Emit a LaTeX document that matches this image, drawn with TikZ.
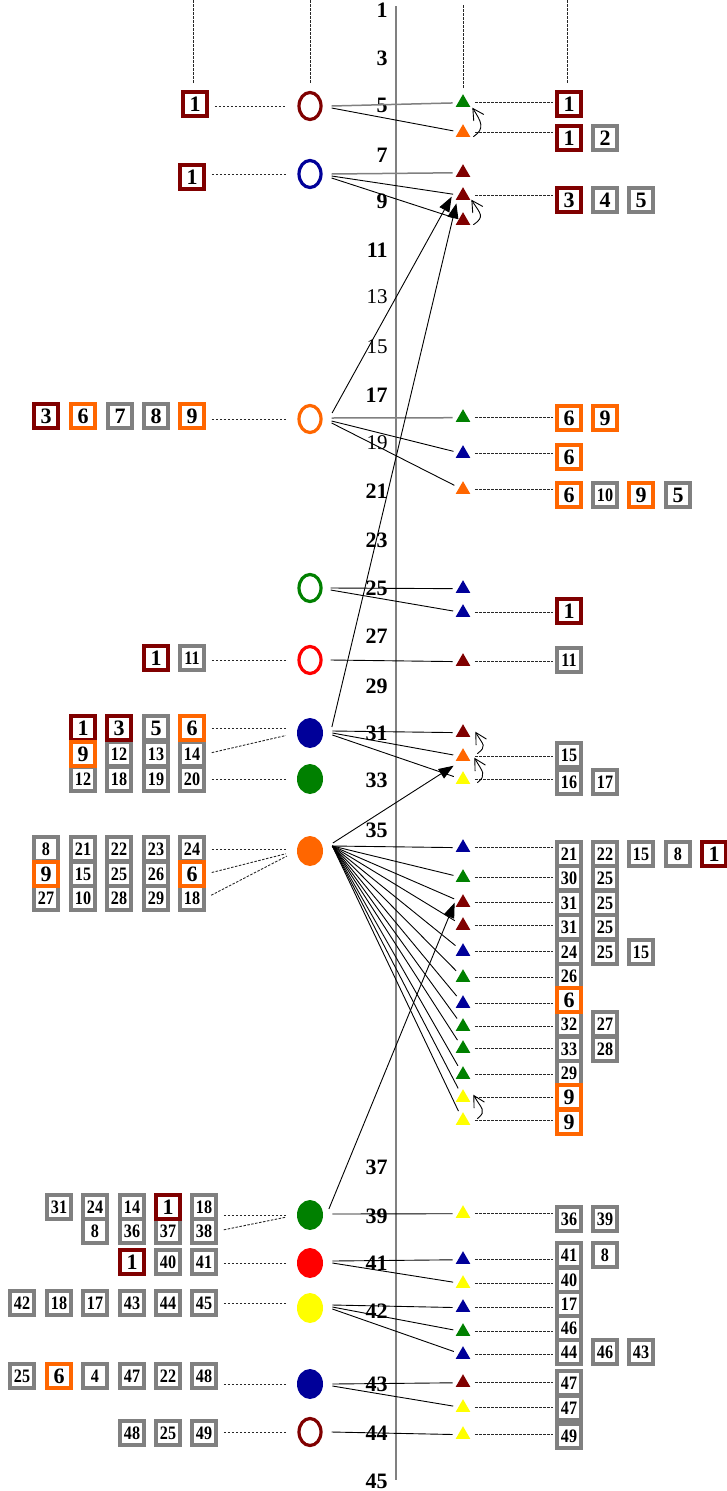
\documentclass[tikz,border=0pt]{standalone}
\usepackage{fontspec}
\setmainfont{Liberation Serif}
\newfontfamily\narrowserif[FakeStretch=0.85]{Liberation Serif}
\usetikzlibrary{shapes.geometric,arrows.meta,calc}

\definecolor{dkred}{RGB}{128,0,0}
\definecolor{orng}{RGB}{255,102,0}
\definecolor{navy}{RGB}{0,0,153}
\definecolor{grn}{RGB}{0,128,0}
\definecolor{ylw}{RGB}{255,255,0}
\definecolor{bxgray}{RGB}{128,128,128}
\definecolor{dashgray}{RGB}{40,40,40}

\newcommand{\bignum}{\fontsize{22}{22}\selectfont\bfseries}
\newcommand{\smlnum}{\narrowserif\fontsize{19}{19}\selectfont\bfseries}

\tikzset{every picture/.style={line width=0.75pt}}
\tikzset{
 ring/.style={ellipse, draw=#1, line width=3.2pt, minimum width=22pt, minimum height=27pt, inner sep=0pt},
 disc/.style={ellipse, fill=#1, minimum width=26pt, minimum height=30pt, inner sep=0pt},
 tri/.style={regular polygon, regular polygon sides=3, fill=#1, minimum size=17pt, inner sep=0pt},
 numbox/.style={draw=#1, fill=white, line width=3.8pt, minimum width=24pt, minimum height=24pt, inner sep=0pt, font=\smlnum},
 gbx/.style={numbox=bxgray},
 gbig/.style={numbox=bxgray, font=\bignum},
 rbx/.style={numbox=dkred, font=\bignum},
 obx/.style={numbox=orng, font=\bignum},
 axlab/.style={anchor=east, inner sep=0pt, font=\bignum},
 axthin/.style={anchor=east, inner sep=0pt, font=\fontsize{21}{21}\selectfont},
 link/.style={line width=0.9pt, shorten >=5pt},
 hlink/.style={link, color=bxgray, line width=1.5pt},
 dline/.style={dashgray, line width=0.9pt, dash pattern=on 2.5pt off 1.5pt},
 lft/.style={dline, shorten <=6pt, shorten >=11pt},
 rgt/.style={dline, shorten <=7pt, shorten >=2pt},
 bigarr/.style={line width=0.9pt, -{Triangle[length=15pt,width=11pt]}},
 backarr/.style={line width=0.9pt, -{Straight Barb[length=11pt,width=12pt]}},
}

\begin{document}
\begin{tikzpicture}[x=1pt,y=1pt,yscale=-1,xscale=1]
\useasboundingbox (0,0) rectangle (727,1491);

%Straight Lines: top guides
\draw[dline] (193,0) -- (193,83);
\draw[dline] (310,0) -- (310,83);
\draw[dline] (463,5) -- (463,88);
\draw[dline] (567,0) -- (567,83);

%Straight Lines: axis
\draw[color=bxgray, line width=1.5pt] (396,6) -- (396,1480);

% Text Node: axis labels
\node[axlab] (ax1) at (388,10) {1};
\node[axlab] (ax3) at (388,58) {3};
\node[axlab] (ax5) at (388,105) {5};
\node[axlab] (ax7) at (388,155) {7};
\node[axlab] (ax9) at (388,201) {9};
\node[axlab] (ax11) at (388,250) {11};
\node[axthin] (ax13) at (388,297) {13};
\node[axthin] (ax15) at (388,347) {15};
\node[axlab] (ax17) at (388,395) {17};
\node[axthin] (ax19) at (388,443) {19};
\node[axlab] (ax21) at (388,491) {21};
\node[axlab] (ax23) at (388,540) {23};
\node[axlab] (ax25) at (388,588) {25};
\node[axlab] (ax27) at (388,636) {27};
\node[axlab] (ax29) at (388,686) {29};
\node[axlab] (ax31) at (388,733) {31};
\node[axlab] (ax33) at (388,780) {33};
\node[axlab] (ax35) at (388,830) {35};
\node[axlab] (ax37) at (388,1167) {37};
\node[axlab] (ax39) at (388,1216) {39};
\node[axlab] (ax41) at (388,1263) {41};
\node[axlab] (ax42) at (388,1311) {42};
\node[axlab] (ax43) at (388,1384) {43};
\node[axlab] (ax44) at (388,1433) {44};
\node[axlab] (ax45) at (388,1481) {45};

%Shape: Ellipse
\node[ring=dkred] (ov1) at (310,106) {};
\node[ring=navy] (ov2) at (310,174) {};
\node[ring=orng] (ov3) at (310,419) {};
\node[ring=grn] (ov4) at (310,588) {};
\node[ring=red] (ov5) at (310,660) {};
\node[disc=navy] (ov6) at (310,733) {};
\node[disc=grn] (ov7) at (310,779) {};
\node[disc=orng] (ov8) at (310,851) {};
\node[disc=grn] (ov9) at (310,1215) {};
\node[disc=red] (ov10) at (310,1263) {};
\node[disc=ylw] (ov11) at (310,1308) {};
\node[disc=navy] (ov12) at (310,1384) {};
\node[ring=dkred] (ov13) at (310,1432) {};

%Shape: Triangle
\node[tri=grn] (tr1) at (463,102.7) {};
\node[tri=orng] (tr2) at (463,132.7) {};
\node[tri=dkred] (tr3) at (463,172.7) {};
\node[tri=dkred] (tr4) at (463,195.7) {};
\node[tri=dkred] (tr5) at (463,220.7) {};
\node[tri=grn] (tr6) at (463,417.7) {};
\node[tri=navy] (tr7) at (463,453.7) {};
\node[tri=orng] (tr8) at (463,489.7) {};
\node[tri=navy] (tr9) at (463,588.7) {};
\node[tri=navy] (tr10) at (463,612.7) {};
\node[tri=dkred] (tr11) at (463,661.7) {};
\node[tri=dkred] (tr12) at (463,732.7) {};
\node[tri=orng] (tr13) at (463,756.7) {};
\node[tri=ylw] (tr14) at (463,779.7) {};
\node[tri=navy] (tr15) at (463,847.7) {};
\node[tri=grn] (tr16) at (463,877.7) {};
\node[tri=dkred] (tr17) at (463,902.7) {};
\node[tri=dkred] (tr18) at (463,925.7) {};
\node[tri=navy] (tr19) at (463,951.7) {};
\node[tri=grn] (tr20) at (463,977.7) {};
\node[tri=navy] (tr21) at (463,1003.7) {};
\node[tri=grn] (tr22) at (463,1026.7) {};
\node[tri=grn] (tr23) at (463,1048.7) {};
\node[tri=grn] (tr24) at (463,1074.7) {};
\node[tri=ylw] (tr25) at (463,1097.7) {};
\node[tri=ylw] (tr26) at (463,1120.7) {};
\node[tri=ylw] (tr27) at (463,1213.7) {};
\node[tri=navy] (tr28) at (463,1259.7) {};
\node[tri=ylw] (tr29) at (463,1283.7) {};
\node[tri=navy] (tr30) at (463,1307.7) {};
\node[tri=grn] (tr31) at (463,1331.7) {};
\node[tri=navy] (tr32) at (463,1354.7) {};
\node[tri=dkred] (tr33) at (463,1382.7) {};
\node[tri=ylw] (tr34) at (463,1407.7) {};
\node[tri=ylw] (tr35) at (463,1434.7) {};

% Text Node: left boxes
\node[rbx] (lb1) at (195,104) {1};
\node[rbx] (lb2) at (192,177) {1};
\node[gbig] (lb3c) at (120,416) {7};
\node[gbig] (lb3d) at (156,416) {8};
\node[rbx] (lb3a) at (46,416) {3};
\node[obx] (lb3b) at (83,416) {6};
\node[obx] (lb3e) at (192,416) {9};
\node[gbx] (lb5b) at (192,658) {11};
\node[rbx] (lb5a) at (156,658) {1};
% grid of the navy disc
\node[gbig] (lb6a3) at (156,728) {5};
\node[gbx] (lb6b2) at (119,754) {12};
\node[gbx] (lb6b3) at (156,754) {13};
\node[gbx] (lb6b4) at (192,754) {14};
\node[gbx] (lb6c1) at (83,779) {12};
\node[gbx] (lb6c2) at (119,779) {18};
\node[gbx] (lb6c3) at (156,779) {19};
\node[gbx] (lb6c4) at (192,779) {20};
\node[rbx] (lb6a1) at (83,728) {1};
\node[rbx] (lb6a2) at (119,728) {3};
\node[obx] (lb6a4) at (192,728) {6};
\node[obx] (lb6b1) at (83,754) {9};
% grid of the orange disc
\node[gbx] (lb8a1) at (46,849) {8};
\node[gbx] (lb8a2) at (83,849) {21};
\node[gbx] (lb8a3) at (119,849) {22};
\node[gbx] (lb8a4) at (156,849) {23};
\node[gbx] (lb8a5) at (192,849) {24};
\node[gbx] (lb8b2) at (83,874) {15};
\node[gbx] (lb8b3) at (119,874) {25};
\node[gbx] (lb8b4) at (156,874) {26};
\node[gbx] (lb8c1) at (46,898) {27};
\node[gbx] (lb8c2) at (83,898) {10};
\node[gbx] (lb8c3) at (119,898) {28};
\node[gbx] (lb8c4) at (156,898) {29};
\node[gbx] (lb8c5) at (192,898) {18};
\node[obx] (lb8b1) at (46,874) {9};
\node[obx] (lb8b5) at (192,874) {6};
% lower rows
\node[gbx] (lb9a1) at (59,1207) {31};
\node[gbx] (lb9a2) at (95,1207) {24};
\node[gbx] (lb9a3) at (132,1207) {14};
\node[gbx] (lb9a5) at (204,1207) {18};
\node[gbx] (lb9b1) at (95,1231) {8};
\node[gbx] (lb9b2) at (132,1231) {36};
\node[gbx] (lb9b3) at (168,1231) {37};
\node[gbx] (lb9b4) at (204,1231) {38};
\node[rbx] (lb9a4) at (168,1207) {1};
\node[rbx] (lb10a) at (132,1262) {1};
\node[gbx] (lb10b) at (168,1262) {40};
\node[gbx] (lb10c) at (204,1262) {41};
\node[gbx] (lb11a) at (22,1303) {42};
\node[gbx] (lb11b) at (59,1303) {18};
\node[gbx] (lb11c) at (95,1303) {17};
\node[gbx] (lb11d) at (132,1303) {43};
\node[gbx] (lb11e) at (168,1303) {44};
\node[gbx] (lb11f) at (204,1303) {45};
\node[gbx] (lb12a) at (22,1376) {25};
\node[obx] (lb12b) at (59,1376) {6};
\node[gbx] (lb12c) at (95,1376) {4};
\node[gbx] (lb12d) at (132,1376) {47};
\node[gbx] (lb12e) at (168,1376) {22};
\node[gbx] (lb12f) at (204,1376) {48};
\node[gbx] (lb13a) at (132,1433) {48};
\node[gbx] (lb13b) at (168,1433) {25};
\node[gbx] (lb13c) at (204,1433) {49};

% Text Node: right boxes
\node[rbx] (rb1a) at (569,104) {1};
\node[rbx] (rb2a) at (569,138) {1};
\node[gbig] (rb2b) at (605,138) {2};
\node[rbx] (rb4a) at (569,200) {3};
\node[gbig] (rb4b) at (605,200) {4};
\node[gbig] (rb4c) at (641,200) {5};
\node[obx] (rb6a) at (569,418) {6};
\node[obx] (rb6b) at (605,418) {9};
\node[obx] (rb7a) at (569,457) {6};
\node[obx] (rb8a) at (569,495) {6};
\node[gbx] (rb8b) at (605,495) {10};
\node[obx] (rb8c) at (641,495) {9};
\node[gbig] (rb8d) at (678,495) {5};
\node[rbx] (rb10a) at (569,611) {1};
\node[gbx] (rb11a) at (569,660) {11};
\node[gbx] (rb13a) at (569,755) {15};
\node[gbx] (rb14a) at (569,782) {16};
\node[gbx] (rb14b) at (605,782) {17};
\node[gbx] (rb15a) at (569,854) {21};
\node[gbx] (rb15b) at (605,854) {22};
\node[gbx] (rb15c) at (641,854) {15};
\node[gbx] (rb15d) at (678,854) {8};
\node[rbx] (rb15e) at (714,854) {1};
\node[gbx] (rb16a) at (569,878) {30};
\node[gbx] (rb16b) at (605,878) {25};
\node[gbx] (rb17a) at (569,903) {31};
\node[gbx] (rb17b) at (605,903) {25};
\node[gbx] (rb18a) at (569,927) {31};
\node[gbx] (rb18b) at (605,927) {25};
\node[gbx] (rb19a) at (569,952) {24};
\node[gbx] (rb19b) at (605,952) {25};
\node[gbx] (rb19c) at (641,952) {15};
\node[gbx] (rb20a) at (569,976) {26};
\node[gbx] (rb22a) at (569,1024) {32};
\node[gbx] (rb22b) at (605,1024) {27};
\node[gbx] (rb23a) at (569,1049) {33};
\node[gbx] (rb23b) at (605,1049) {28};
\node[gbx] (rb24a) at (569,1073) {29};
\node[obx] (rb21a) at (569,1000) {6};
\node[obx] (rb25a) at (569,1097) {9};
\node[obx] (rb26a) at (569,1122) {9};
\node[gbx] (rb27a) at (569,1219) {36};
\node[gbx] (rb27b) at (605,1219) {39};
\node[gbx] (rb28a) at (569,1255) {41};
\node[gbx] (rb28b) at (605,1255) {8};
\node[gbx] (rb29a) at (569,1280) {40};
\node[gbx] (rb30a) at (569,1304) {17};
\node[gbx] (rb31a) at (569,1328) {46};
\node[gbx] (rb32a) at (569,1352) {44};
\node[gbx] (rb32b) at (605,1352) {46};
\node[gbx] (rb32c) at (641,1352) {43};
\node[gbx] (rb33a) at (569,1383) {47};
\node[gbx] (rb34a) at (569,1408) {47};
\node[gbx] (rb35a) at (569,1436) {49};

%Straight Lines: left dashed
\draw[lft] (ov1.west -| lb1.east) -- (ov1.west);
\draw[lft] (ov2.west -| lb2.east) -- (ov2.west);
\draw[lft] (ov3.west -| lb3e.east) -- (ov3.west);
\draw[lft] (ov5.west -| lb5b.east) -- (ov5.west);
\draw[lft] (lb6a4.east) -- (lb6a4.east -| ov6.west);
\draw[lft] (lb6b4.east) -- (ov6.west);
\draw[lft] (lb6c4.east) -- (ov7.west);
\draw[lft] (lb8a5.east) -- (lb8a5.east -| ov8.west);
\draw[lft] (lb8b5.east) -- (ov8.west);
\draw[lft] (lb8c5.east) -- (ov8.west);
\draw[lft] (ov9.west -| lb9a5.east) -- (ov9.west);
\draw[lft] (lb9b4.east) -- (ov9.west);
\draw[lft] (ov10.west -| lb10c.east) -- (ov10.west);
\draw[lft] (lb11f.east) -- (lb11f.east -| ov11.west);
\draw[lft] (ov12.west -| lb12f.east) -- (ov12.west);
\draw[lft] (ov13.west -| lb13c.east) -- (ov13.west);

%Straight Lines: right dashed
\draw[rgt] (tr1.east) -- (tr1.east -| rb1a.west);
\draw[rgt] (tr2.east) -- (tr2.east -| rb2a.west);
\draw[rgt] (tr4.east) -- (tr4.east -| rb4a.west);
\draw[rgt] (tr6.east) -- (tr6.east -| rb6a.west);
\draw[rgt] (tr7.east) -- (tr7.east -| rb7a.west);
\draw[rgt] (tr8.east) -- (tr8.east -| rb8a.west);
\draw[rgt] (tr10.east) -- (tr10.east -| rb10a.west);
\draw[rgt] (tr11.east) -- (tr11.east -| rb11a.west);
\draw[rgt] (tr13.east) -- (tr13.east -| rb13a.west);
\draw[rgt] (tr14.east) -- (tr14.east -| rb14a.west);
\draw[rgt] (tr15.east) -- (tr15.east -| rb15a.west);
\draw[rgt] (tr16.east) -- (tr16.east -| rb16a.west);
\draw[rgt] (tr17.east) -- (tr17.east -| rb17a.west);
\draw[rgt] (tr18.east) -- (tr18.east -| rb18a.west);
\draw[rgt] (tr19.east) -- (tr19.east -| rb19a.west);
\draw[rgt] (tr20.east) -- (tr20.east -| rb20a.west);
\draw[rgt] (tr21.east) -- (tr21.east -| rb21a.west);
\draw[rgt] (tr22.east) -- (tr22.east -| rb22a.west);
\draw[rgt] (tr23.east) -- (tr23.east -| rb23a.west);
\draw[rgt] (tr24.east) -- (tr24.east -| rb24a.west);
\draw[rgt] (tr25.east) -- (tr25.east -| rb25a.west);
\draw[rgt] (tr26.east) -- (tr26.east -| rb26a.west);
\draw[rgt] (tr27.east) -- (tr27.east -| rb27a.west);
\draw[rgt] (tr28.east) -- (tr28.east -| rb28a.west);
\draw[rgt] (tr29.east) -- (tr29.east -| rb29a.west);
\draw[rgt] (tr30.east) -- (tr30.east -| rb30a.west);
\draw[rgt] (tr31.east) -- (tr31.east -| rb31a.west);
\draw[rgt] (tr32.east) -- (tr32.east -| rb32a.west);
\draw[rgt] (tr33.east) -- (tr33.east -| rb33a.west);
\draw[rgt] (tr34.east) -- (tr34.east -| rb34a.west);
\draw[rgt] (tr35.east) -- (tr35.east -| rb35a.west);

%Straight Lines: ellipse to triangle
\draw[hlink] ($(ov1.east)+(9,0)$) -- (tr1);
\draw[link] ($(ov1.east)+(9,2)$) -- (tr2);
\draw[hlink] ($(ov2.east)+(9,0)$) -- (tr3);
\draw[link] ($(ov2.east)+(9,2)$) -- (tr4);
\draw[link] ($(ov2.east)+(9,4)$) -- (tr5);
\draw[hlink] ($(ov3.east)+(9,-1)$) -- (tr6);
\draw[link] ($(ov3.east)+(9,2)$) -- (tr7);
\draw[link] ($(ov3.east)+(9,4)$) -- (tr8);
\draw[link] ($(ov4.east)+(8,0)$) -- (tr9);
\draw[link] ($(ov4.east)+(8,2)$) -- (tr10);
\draw[link] ($(ov5.east)+(8,0)$) -- (tr11);
\draw[link] ($(ov6.east)+(9,-2)$) -- (tr12);
\draw[link] ($(ov6.east)+(9,0)$) -- (tr13);
\draw[link] ($(ov6.east)+(9,2)$) -- (tr14);
\draw[link] ($(ov8.east)+(9,-5)$) -- (tr15);
\draw[link] ($(ov8.east)+(9,-5)$) -- (tr16);
\draw[link] ($(ov8.east)+(9,-5)$) -- (tr17);
\draw[link] ($(ov8.east)+(9,-5)$) -- (tr18);
\draw[link] ($(ov8.east)+(9,-5)$) -- (tr19);
\draw[link] ($(ov8.east)+(9,-5)$) -- (tr20);
\draw[link] ($(ov8.east)+(9,-5)$) -- (tr21);
\draw[link] ($(ov8.east)+(9,-5)$) -- (tr22);
\draw[link] ($(ov8.east)+(9,-5)$) -- (tr23);
\draw[link] ($(ov8.east)+(9,-5)$) -- (tr24);
\draw[link] ($(ov8.east)+(9,-5)$) -- (tr25);
\draw[link] ($(ov8.east)+(9,-5)$) -- (tr26);
\draw[link] ($(ov9.east)+(9,-1)$) -- (tr27);
\draw[link] ($(ov10.east)+(9,-2)$) -- (tr28);
\draw[link] ($(ov10.east)+(9,0)$) -- (tr29);
\draw[link] ($(ov11.east)+(9,-3)$) -- (tr30);
\draw[link] ($(ov11.east)+(9,-1)$) -- (tr31);
\draw[link] ($(ov11.east)+(9,1)$) -- (tr32);
\draw[link] ($(ov12.east)+(9,0)$) -- (tr33);
\draw[link] ($(ov12.east)+(9,2)$) -- (tr34);
\draw[link] ($(ov13.east)+(9,0)$) -- (tr35);

%Straight Lines: long arrows
\draw[bigarr] ($(ov3.east)+(9.5,-6)$) -- ($(tr4.west)+(-6,1)$);
\draw[bigarr] ($(ov6.east)+(8.5,-6)$) -- ($(tr4.south west)+(-2,3)$);
\draw[bigarr] ($(ov8.east)+(9.5,-8)$) -- ($(tr14.west)+(-4,-14)$);
\draw[bigarr] ($(ov9.east)+(5.5,-6)$) -- ($(tr17.west)+(-3,0)$);

%Curve Lines: short back arrows
\draw[backarr] ($(tr2.east)+(5,4)$) .. controls +(12,-8) and +(9,14) .. ($(tr1.east)+(4,5)$);
\draw[backarr] ($(tr5.east)+(5,4)$) .. controls +(12,-8) and +(9,14) .. ($(tr4.east)+(3,4)$);
\draw[backarr] ($(tr14.east)+(9,3)$) .. controls +(10,-8) and +(8,14) .. ($(tr13.east)+(6,1)$);
\draw[backarr] ($(tr13.east)+(9,-3)$) .. controls +(10,-8) and +(8,14) .. ($(tr12.east)+(7,-1)$);
\draw[backarr] ($(tr26.east)+(9,-2)$) .. controls +(10,-8) and +(8,14) .. ($(tr25.east)+(5,-3)$);

\end{tikzpicture}
\end{document}
